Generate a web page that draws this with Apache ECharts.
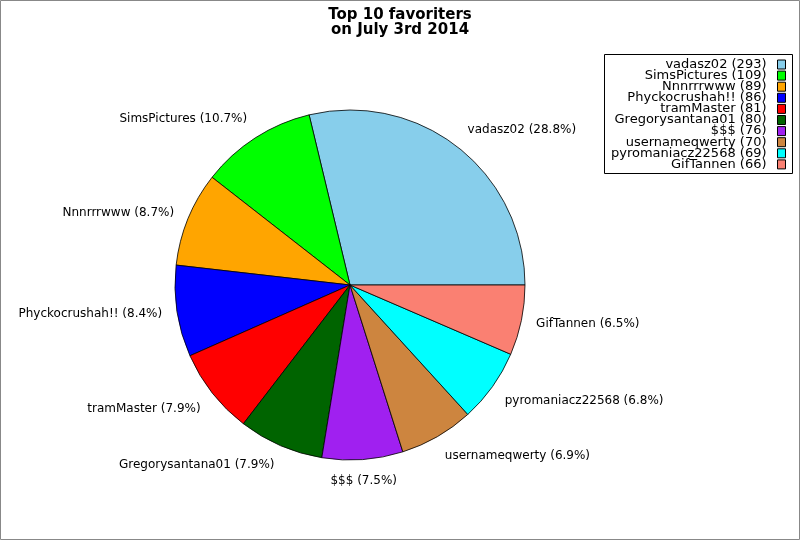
<!DOCTYPE html>
<html>
<head>
<meta charset="utf-8">
<script src="https://cdn.jsdelivr.net/npm/echarts@6/dist/echarts.min.js"></script>
<style>
html,body{margin:0;padding:0;background:#fff;}
#chart{width:800px;height:540px;}
</style>
</head>
<body>
<div id="chart"></div>
<script>
const names = ['vadasz02','SimsPictures','Nnnrrrwww','Phyckocrushah!!','tramMaster','Gregorysantana01','$$$','usernameqwerty','pyromaniacz22568','GifTannen'];
const counts = [293,109,89,86,81,80,76,70,69,66];
const colors = ['#87CEEB','#00FF00','#FFA500','#0000FF','#FF0000','#006400','#A020F0','#CD853F','#00FFFF','#FA8072'];
const titleText = 'Top 10 favoriters\non July 3rd 2014';

const total = counts.reduce((a,b)=>a+b,0);
const countByName = {};
names.forEach((n,i)=>countByName[n]=counts[i]);

const CX = 350, CY = 285, R = 175, LABEL_R = 190;
// mid angle (deg, counter-clockwise from 3 o'clock) of each slice
const midAngles = [];
(function(){ let cum = 0; counts.forEach(v=>{ midAngles.push((cum + v/2)/total*360); cum += v; }); })();

const chart = echarts.init(document.getElementById('chart'));
chart.setOption({
  animation:false,
  backgroundColor:'#fff',
  title:{
    text:titleText,
    left:'center',
    top:3,
    textStyle:{fontFamily:'DejaVu Sans',fontSize:15,fontWeight:'bold',color:'#000',lineHeight:15}
  },
  legend:{
    orient:'vertical',
    right:9,
    top:53,
    align:'right',
    itemWidth:8,
    itemHeight:9,
    itemGap:-1.9,
    icon:'rect',
    selectedMode:false,
    itemStyle:{borderColor:'#000',borderWidth:1},
    textStyle:{fontFamily:'DejaVu Sans',fontSize:13,color:'#000',padding:[0,6,0,0]},
    formatter:n=>n+' ('+countByName[n]+')',
    data:names
  },
  graphic:[
    {type:'rect',shape:{x:604.5,y:54.5,width:188,height:119},style:{fill:null,stroke:'#000',lineWidth:1},z:-1},
    {type:'rect',shape:{x:0.5,y:0.5,width:799,height:539},style:{fill:null,stroke:'#888',lineWidth:1},z:100}
  ],
  series:[{
    type:'pie',
    center:[CX,CY],
    radius:R,
    startAngle:0,
    clockwise:false,
    avoidLabelOverlap:false,
    itemStyle:{borderColor:'#000',borderWidth:0.8},
    label:{
      show:true,
      position:'outside',
      fontFamily:'DejaVu Sans',
      fontSize:12,
      color:'#000',
      formatter:p=>p.name+' ('+(p.value/total*100).toFixed(1)+'%)'
    },
    labelLine:{show:false,length:15,length2:0},
    labelLayout:function(params){
      const a = midAngles[params.dataIndex]*Math.PI/180;
      const c = Math.cos(a), s = Math.sin(a);
      return {
        x: CX + LABEL_R*c,
        y: CY - LABEL_R*s,
        align: c > 0.2 ? 'left' : (c < -0.2 ? 'right' : 'center'),
        verticalAlign: s > 0.55 ? 'bottom' : (s < -0.55 ? 'top' : 'middle')
      };
    },
    emphasis:{disabled:true},
    data:names.map((n,i)=>({name:n,value:counts[i],itemStyle:{color:colors[i]}}))
  }]
});
</script>
</body>
</html>
